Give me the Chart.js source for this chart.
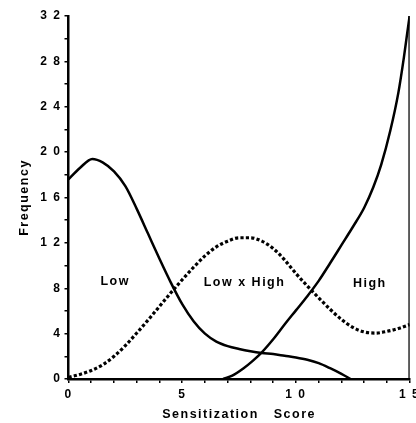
<!DOCTYPE html>
<html>
<head>
<meta charset="utf-8">
<script src="https://cdn.jsdelivr.net/npm/chart.js@4.4.1/dist/chart.umd.min.js"></script>
<style>
  html, body { margin: 0; padding: 0; background: #fff; overflow: hidden; }
  #wrap { width: 422px; height: 423px; }
</style>
</head>
<body>
<div id="wrap"><canvas id="freqChart"></canvas></div>
<script>
// values (sensitization score vs frequency)
const lowScore = [0, 0.5, 1.05, 1.5, 2, 2.5, 3, 3.5, 4, 4.5, 5, 5.5, 6, 6.5, 7, 7.5, 8, 8.5, 9, 9.5, 10, 10.5, 11, 11.5, 12, 12.4];
const lowFreq  = [17.6, 18.6, 19.4, 19.1, 18.3, 17.0, 15.0, 12.8, 10.6, 8.5, 6.6, 5.1, 4.0, 3.3, 2.9, 2.65, 2.45, 2.3, 2.2, 2.05, 1.9, 1.7, 1.4, 0.95, 0.45, 0];

const mixScore = [0, 0.5, 1, 1.5, 2, 2.5, 3, 3.5, 4, 4.5, 5, 5.5, 6, 6.5, 7, 7.5, 8, 8.5, 9, 9.5, 10, 10.5, 11, 11.5, 12, 12.5, 13, 13.5, 14, 14.5, 15];
const mixFreq  = [0.15, 0.4, 0.75, 1.25, 2.0, 2.95, 4.05, 5.2, 6.4, 7.6, 8.75, 9.85, 10.85, 11.65, 12.15, 12.45, 12.45, 12.15, 11.5, 10.5, 9.3, 8.2, 7.15, 6.15, 5.25, 4.55, 4.15, 4.05, 4.2, 4.45, 4.8];

const highScore = [6.8, 7.2, 7.7, 8.1, 8.5, 9, 9.5, 10, 10.5, 11, 11.5, 12, 12.5, 13, 13.4, 13.75, 14.15, 14.5, 14.75, 14.9, 15];
const highFreq  = [0, 0.3, 0.95, 1.6, 2.35, 3.5, 4.8, 6.05, 7.3, 8.65, 10.2, 11.8, 13.4, 15.1, 16.9, 18.9, 21.9, 25.2, 28.4, 30.6, 32];

// the High curve drops straight back to zero at the top score
const highEdgeScore = [15, 15];
const highEdgeFreq  = [32, 0];

const curveLabels = ['Low', 'Low x High', 'High'];
const curveLabelScore = [2.05, 7.74, 13.25];
const curveLabelFreq  = [8.6, 8.5, 8.4];

const FONT = "'Liberation Sans', Arial, sans-serif";

function toPoints(xs, ys) {
    return xs.map((x, i) => ({ x: x, y: ys[i] }));
}

// digits in the original are spread apart: "3 2", "1 0"
function spaced(v) {
    return String(v).split('').join(' ');
}

// letter spacing for all text on the canvas
const trackingPlugin = {
    id: 'tracking',
    beforeDraw(chart) { chart.ctx.letterSpacing = '1.5px'; },
    afterDraw(chart) { chart.ctx.letterSpacing = '0px'; }
};

// curve names written inside the plot
const curveLabelPlugin = {
    id: 'curveLabels',
    afterDatasetsDraw(chart) {
        const ctx = chart.ctx;
        const xs = chart.scales.x, ys = chart.scales.y;
        ctx.save();
        ctx.font = 'bold 12.5px ' + FONT;
        ctx.fillStyle = '#000';
        ctx.textAlign = 'center';
        ctx.textBaseline = 'middle';
        curveLabels.forEach((txt, i) => {
            ctx.fillText(txt, xs.getPixelForValue(curveLabelScore[i]), ys.getPixelForValue(curveLabelFreq[i]));
        });
        ctx.restore();
    }
};

const ctx = document.getElementById('freqChart').getContext('2d');
new Chart(ctx, {
    type: 'line',
    data: {
        datasets: [
            {
                label: 'Low',
                data: toPoints(lowScore, lowFreq),
                borderColor: '#000',
                borderWidth: 2.5,
                pointRadius: 0,
                cubicInterpolationMode: 'monotone'
            },
            {
                label: 'Low x High',
                data: toPoints(mixScore, mixFreq),
                borderColor: '#000',
                borderWidth: 3.2,
                borderDash: [3.2, 2.2],
                borderCapStyle: 'butt',
                pointRadius: 0,
                cubicInterpolationMode: 'monotone'
            },
            {
                label: 'High',
                data: toPoints(highScore, highFreq),
                borderColor: '#000',
                borderWidth: 2.5,
                pointRadius: 0,
                cubicInterpolationMode: 'monotone'
            },
            {
                label: 'High edge',
                data: toPoints(highEdgeScore, highEdgeFreq),
                borderColor: '#000',
                borderWidth: 2.5,
                pointRadius: 0,
                tension: 0
            }
        ]
    },
    options: {
        responsive: true,
        maintainAspectRatio: false,
        animation: false,
        layout: { padding: { top: 16, right: 10, left: 0, bottom: 0 } },
        plugins: {
            legend: { display: false },
            tooltip: { enabled: false }
        },
        scales: {
            x: {
                type: 'linear',
                min: 0,
                max: 15,
                grid: { drawOnChartArea: false, drawTicks: true, tickLength: 4, color: '#000', lineWidth: 1.5 },
                border: { display: true, color: '#000', width: 2.5 },
                ticks: {
                    stepSize: 1,
                    padding: 4,
                    maxRotation: 0,
                    autoSkip: false,
                    color: '#000',
                    font: { family: FONT, size: 12, weight: 'bold' },
                    callback: v => (v % 5 === 0 ? spaced(v) : '')
                },
                title: {
                    display: true,
                    text: 'Sensitization   Score',
                    color: '#000',
                    font: { family: FONT, size: 12.5, weight: 'bold' },
                    padding: { top: 0, bottom: 1 }
                },
                afterFit(scale) { scale.height = 44; }
            },
            y: {
                min: 0,
                max: 32,
                grid: { drawOnChartArea: false, drawTicks: true, tickLength: 4, color: '#000', lineWidth: 1.5 },
                border: { display: true, color: '#000', width: 2.5 },
                ticks: {
                    stepSize: 2,
                    padding: 3,
                    autoSkip: false,
                    color: '#000',
                    font: { family: FONT, size: 12, weight: 'bold' },
                    callback: v => (v % 4 === 0 ? spaced(v) : '')
                },
                title: {
                    display: true,
                    text: 'Frequency',
                    color: '#000',
                    font: { family: FONT, size: 12.5, weight: 'bold' },
                    padding: { top: 17, bottom: 0 }
                },
                afterFit(scale) { scale.width = 68.5; }
            }
        }
    },
    plugins: [trackingPlugin, curveLabelPlugin]
});
</script>
</body>
</html>
